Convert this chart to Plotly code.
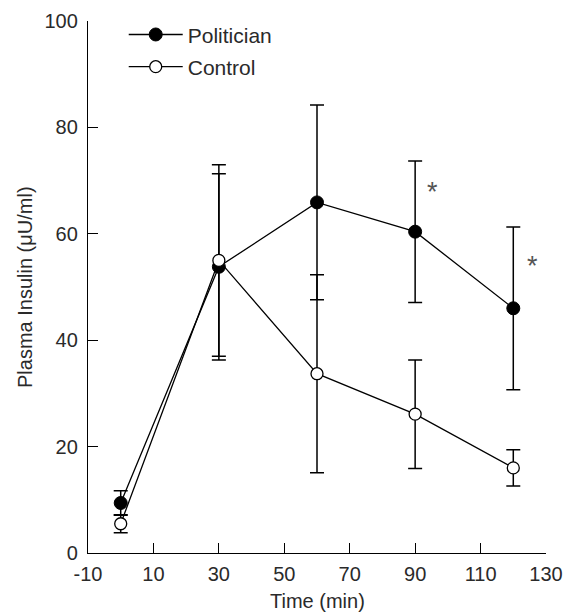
import plotly.graph_objects as go

time_min = [0, 30, 60, 90, 120]
politician_mean = [9.4, 53.8, 65.9, 60.4, 46.0]
politician_err = [2.3, 17.5, 18.3, 13.3, 15.3]
control_mean = [5.5, 55.0, 33.7, 26.1, 16.0]
control_err = [1.7, 18.0, 18.6, 10.2, 3.4]

star_x = [95.2, 126]
star_y = [68.5, 54.6]

x_ticks = [-10, 10, 30, 50, 70, 90, 110, 130]
y_ticks = [0, 20, 40, 60, 80, 100]

x_title = "Time (min)"
y_title = "Plasma Insulin (μU/ml)"

FONT = "Liberation Sans, Arial, sans-serif"
TXT = "#2a2a2a"

fig = go.Figure()
fig.add_trace(go.Scatter(
    x=time_min, y=politician_mean, name="Politician", mode="lines+markers",
    line=dict(color="black", width=1.3),
    marker=dict(symbol="circle", size=13, color="black", line=dict(color="black", width=1)),
    error_y=dict(type="data", array=politician_err, visible=True, color="black", thickness=1.5, width=7),
    legend="legend", cliponaxis=False,
))
fig.add_trace(go.Scatter(
    x=time_min, y=control_mean, name="Control", mode="lines+markers",
    line=dict(color="black", width=1.3),
    marker=dict(symbol="circle", size=12, color="white", line=dict(color="black", width=1.3)),
    error_y=dict(type="data", array=control_err, visible=True, color="black", thickness=1.5, width=7),
    legend="legend2", cliponaxis=False,
))

for sx, sy in zip(star_x, star_y):
    fig.add_annotation(x=sx, y=sy, text="*", showarrow=False,
                       font=dict(family=FONT, size=27, color="#555555"),
                       xanchor="center", yanchor="middle", yshift=-3)

# axis titles as paper-anchored text
fig.add_annotation(text=x_title, xref="paper", yref="paper", x=0.5, y=0, yshift=-48,
                   showarrow=False, xanchor="center", yanchor="middle",
                   font=dict(family=FONT, size=20, color=TXT))
fig.add_annotation(text=y_title, xref="paper", yref="paper", x=0, y=0.5, xshift=-63,
                   showarrow=False, xanchor="center", yanchor="middle", textangle=-90,
                   font=dict(family=FONT, size=20, color=TXT))

fig.update_layout(
    width=573, height=615,
    margin=dict(l=88, r=27, t=21, b=62, autoexpand=False),
    paper_bgcolor="white", plot_bgcolor="white",
    font=dict(family=FONT, size=20, color=TXT),
    showlegend=True,
    legend=dict(x=0.078, y=0.974, xanchor="left", yanchor="middle", bgcolor="rgba(0,0,0,0)",
                font=dict(size=21, color=TXT), itemwidth=54),
    legend2=dict(x=0.078, y=0.9135, xanchor="left", yanchor="middle", bgcolor="rgba(0,0,0,0)",
                 font=dict(size=21, color=TXT), itemwidth=54),
    xaxis=dict(range=[-10, 130], tickvals=x_ticks, ticktext=[str(v) for v in x_ticks],
               ticks="inside", ticklen=10, tickwidth=1.3, tickcolor="black",
               showline=True, linecolor="black", linewidth=1.3, showgrid=False, zeroline=False,
               automargin=False, ticklabelstandoff=3,
               tickfont=dict(size=20, color=TXT)),
    yaxis=dict(range=[0, 100], tickvals=y_ticks, ticktext=[str(v) for v in y_ticks],
               ticks="inside", ticklen=10, tickwidth=1.3, tickcolor="black",
               showline=True, linecolor="black", linewidth=1.3, showgrid=False, zeroline=False,
               automargin=False, ticklabelstandoff=5,
               tickfont=dict(size=20, color=TXT)),
)

fig.write_html("out.html", config={"displayModeBar": False},
               post_script="document.body.style.margin='0';document.body.style.overflow='hidden';")
